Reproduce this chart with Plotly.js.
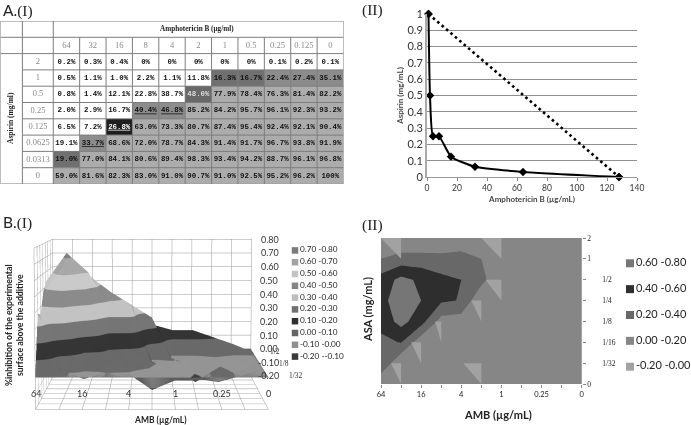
<!DOCTYPE html>
<html><head><meta charset="utf-8">
<script src="https://cdn.plot.ly/plotly-3.0.1.min.js"></script>
<style>html,body{margin:0;padding:0;background:#fff}#c{width:691px;height:425px}.main-svg{will-change:transform}</style>
</head><body><div id="c"></div>
<script>
// ---------- DATA ----------
const ambLabels=['64','32','16','8','4','2','1','0.5','0.25','0.125','0'];
const asaLabels=['2','1','0.5','0.25','0.125','0.0625','0.0313','0'];
const growth=[
['0.2%','0.3%','0.4%','0%','0%','0%','0%','0%','0.1%','0.2%','0.1%'],
['0.5%','1.1%','1.0%','2.2%','1.1%','11.8%','16.3%','16.7%','22.4%','27.4%','35.1%'],
['0.8%','1.4%','12.1%','22.8%','38.7%','48.0%','77.9%','78.4%','76.3%','81.4%','82.2%'],
['2.0%','2.9%','16.7%','<u>40.4%</u>','<u>46.8%</u>','85.2%','84.2%','95.7%','96.1%','92.3%','93.2%'],
['6.5%','7.2%','<u>26.8%</u>','63.0%','73.3%','80.7%','87.4%','95.4%','92.4%','92.1%','90.4%'],
['19.1%','<u>33.7%</u>','68.6%','72.0%','78.7%','84.3%','91.4%','91.7%','96.7%','93.8%','91.9%'],
['19.0%','77.0%','84.1%','80.6%','89.4%','98.3%','93.4%','94.2%','88.7%','96.1%','96.8%'],
['59.0%','81.6%','82.3%','83.0%','91.0%','90.7%','91.0%','92.5%','95.2%','96.2%','100%']];
const W=255,G=172,M=140,D=112,E=104,K=30;
const cellGrey=[
[W,W,W,W,W,W,W,W,W,W,W],
[W,W,W,W,W,W,D,D,M,M,M],
[W,W,W,W,W,E,G,G,G,G,G],
[W,W,W,M,M,G,G,G,G,G,G],
[W,W,K,G,G,G,G,G,G,G,G],
[W,M,G,G,G,G,G,G,G,G,G],
[D,G,G,G,G,G,G,G,G,G,G],
[G,G,G,G,G,G,G,G,G,G,G]];
const isoAmb=[1,2,4,8,16,32,64,128];
const isoAsa=[1,0.5,0.25,0.25,0.125,0.0625,0.03125,0];
const addAmb=[1,128];
const addAsa=[1,0];
const rAmbTicks=[0,2,4,6,8,10];
const rAmbText=['64','16','4','1','0.25','0'];
const asaFrontToBack=['0','1/32','1/16','1/8','1/4','1/2','1','2'];
const zTicks=[-0.2,-0.1,0,0.1,0.2,0.3,0.4,0.5,0.6,0.7,0.8];
// surface values, rows ASA 0 (front) -> 2 (back), columns AMB 64 -> 0
const surfaceZ=[
[0,0,0,0,0,0,0,0,0,0,0],
[0.38,0.02,-0.04,0,-0.01,-0.11,-0.05,-0.05,0.04,-0.03,0],
[0.35,0.41,0.07,0.04,0.05,-0.01,-0.08,-0.07,-0.09,-0.05,0],
[0.47,0.67,0.48,0.12,0.09,0.01,-0.05,-0.12,-0.06,-0.05,0],
[0.53,0.73,0.60,0.37,0.38,-0.01,0.01,-0.10,-0.07,-0.03,0],
[0.48,0.66,0.56,0.45,0.36,0.27,-0.03,-0.02,0.02,-0.02,0],
[0.20,0.28,0.28,0.27,0.31,0.20,0.16,0.16,0.11,0.06,0],
[0,0,0,0,0,0,0,0,0,0,0]];
// contour values, rows 2 (top) -> 0 (bottom), columns AMB 64 -> 0
const contourZ=[
[0.01,0.01,0.01,0.01,0.01,0.01,0.01,0.01,0.01,0.01,0.01],
[0.20,0.28,0.28,0.27,0.31,0.20,0.16,0.16,0.11,0.06,0.01],
[0.48,0.66,0.56,0.45,0.40,0.27,0.01,0.01,0.02,0.01,0.01],
[0.53,0.73,0.60,0.43,0.39,0.01,0.01,0.01,0.01,0.01,0.01],
[0.47,0.67,0.48,0.12,0.09,0.01,0.01,0.01,0.01,0.01,0.01],
[0.35,0.41,0.07,0.04,0.05,0.01,0.01,0.01,0.01,0.01,0.01],
[0.38,0.02,0.01,0.01,0.01,0.01,0.01,0.01,0.04,0.01,0.01],
[0.01,0.01,0.01,0.01,0.01,0.01,0.01,0.01,0.01,0.01,0.01]];
// light facets of the lowest band, [col,row] triangles
const facetX=[0,1,1,null,5,6,6,null,5.2,6,6,null,4.5,5,5,null,2.7,3,3,null,1.5,2,2,null,0.5,1,1,null,4.1,5,5];
const facetY=[0,0,1,null,0,0,1,null,2,2,3,null,3,3,4,null,4,4,5,null,5,5,6,null,6,6,7,null,6,6,7];
const zBandLabels=['0.70 -0.80','0.60 -0.70','0.50 -0.60','0.40 -0.50','0.30 -0.40','0.20 -0.30','0.10 -0.20','0.00 -0.10','-0.10 -0.00','-0.20 --0.10'];
const zBandColors=['#7a7a7a','#a2a2a2','#c4c4c4','#858585','#bdbdbd','#707070','#2f2f2f','#646464','#8f8f8f','#3a3a3a'];
const cBandLabels=['0.60 -0.80','0.40 -0.60','0.20 -0.40','0.00 -0.20','-0.20 -0.00'];
const cBandColors=['#767676','#2e2e2e','#686868','#868686','#a2a2a2'];

// ---------- HELPERS ----------
const FW=691,FH=425;
const dx=(a,b)=>[a/FW,b/FW], dy=(t,b)=>[1-b/FH,1-t/FH];
const LINE='#7d7d7d';
const SANS='Lato, "Open Sans", sans-serif', SERIF='"Liberation Serif", serif', MONO='"Liberation Mono", monospace';

// ---------- TABLE ----------
const cx=[],cy=[],ct=[],cc=[];
growth.forEach((row,r)=>row.forEach((t,c)=>{cx.push(c+.5);cy.push(r+2.5);ct.push(t);cc.push(cellGrey[r][c]<110?(cellGrey[r][c]<60?'#fff':'#ddd'):'#111');}));
const tableHeat={type:'heatmap',xaxis:'x',yaxis:'y',x:ambLabels.map((_,i)=>i+.5),y:asaLabels.map((_,i)=>i+2.5),z:cellGrey,zmin:0,zmax:255,
  colorscale:[[0,'#000'],[1,'#fff']],showscale:false,hoverinfo:'skip'};
const tableText={type:'scatter',mode:'text',xaxis:'x',yaxis:'y',x:cx,y:cy,text:ct,textfont:{family:MONO,size:7.4,color:cc,weight:700},hoverinfo:'skip',showlegend:false};
const headX={type:'scatter',mode:'text',xaxis:'x',yaxis:'y',x:ambLabels.map((_,i)=>i+.5),y:ambLabels.map(()=>1.5),text:ambLabels,textfont:{family:SERIF,size:8.5,color:'#8a8a8a'},hoverinfo:'skip',showlegend:false};
const headY={type:'scatter',mode:'text',xaxis:'x',yaxis:'y',x:asaLabels.map(()=>-0.58),y:asaLabels.map((_,i)=>i+2.5),text:asaLabels,textfont:{family:SERIF,size:8.5,color:'#8a8a8a'},hoverinfo:'skip',showlegend:false};
const shapes=[];
const hl=(y,x0)=>shapes.push({type:'line',xref:'x',yref:'y',x0,x1:11,y0:y,y1:y,line:{color:LINE,width:1}});
const vl=(x,y0,y1)=>shapes.push({type:'line',xref:'x',yref:'y',x0:x,x1:x,y0,y1,line:{color:LINE,width:1}});
[0,1,2,10].forEach(y=>hl(y,-2));
[3,4,5,6,7,8,9].forEach(y=>hl(y,-1.17));
vl(-2,0,10);vl(-1.17,0,10);vl(0,0,10);vl(11,0,10);
for(let i=1;i<11;i++)vl(i,1,10);

// ---------- LINE ----------
const iso={type:'scatter',mode:'lines+markers',xaxis:'x2',yaxis:'y2',x:isoAmb,y:isoAsa,line:{color:'#000',width:2,shape:'spline',smoothing:.5},marker:{symbol:'diamond',size:6.5,color:'#000'},showlegend:false,hoverinfo:'skip',cliponaxis:false};
const add={type:'scatter',mode:'lines+markers',xaxis:'x2',yaxis:'y2',x:addAmb,y:addAsa,line:{color:'#000',width:2.6,dash:'2.6px,3.2px'},marker:{symbol:'diamond',size:6.5,color:'#000'},showlegend:false,hoverinfo:'skip',cliponaxis:false};

// ---------- SURFACE ----------
const asc=zBandColors.slice().reverse();
const scale=[];asc.forEach((c,i)=>{scale.push([i/10,c]);scale.push([(i+1)/10,c]);});
const surf={type:'surface',scene:'scene',x:ambLabels.map((_,i)=>i),y:asaFrontToBack.map((_,i)=>i),z:surfaceZ,cmin:-0.2,cmax:0.8,colorscale:scale,showscale:false,hoverinfo:'skip',
  lighting:{ambient:.65,diffuse:.7,specular:.05,roughness:.9,fresnel:0},lightposition:{x:1500,y:-1500,z:600}};

// ---------- CONTOUR ----------
const cAsc=cBandColors.slice().reverse();
const cScale=[];cAsc.forEach((c,i)=>{cScale.push([i/5,c]);cScale.push([(i+1)/5,c]);});
const contour={type:'contour',xaxis:'x3',yaxis:'y3',x:ambLabels.map((_,i)=>i),y:asaLabels.map((_,i)=>i),z:contourZ,zmin:-0.2,zmax:0.8,colorscale:cScale,showscale:false,
  autocontour:false,contours:{coloring:'fill',start:-0.2,end:0.8,size:0.2,showlines:false},line:{width:0,smoothing:0},hoverinfo:'skip'};
const facets={type:'scatter',mode:'lines',xaxis:'x3',yaxis:'y3',x:facetX,y:facetY,fill:'toself',fillcolor:'#a2a2a2',line:{width:0},hoverinfo:'skip',showlegend:false};

// ---------- LEGENDS ----------
const legZ={type:'scatter',mode:'markers+text',xaxis:'x4',yaxis:'y4',x:zBandLabels.map(()=>0),y:zBandLabels,text:zBandLabels,textposition:'middle right',
  marker:{symbol:'square',size:6.5,color:zBandColors},textfont:{family:SANS,size:8.2,color:'#222'},hoverinfo:'skip',showlegend:false,cliponaxis:false};
const legC={type:'scatter',mode:'markers+text',xaxis:'x5',yaxis:'y5',x:cBandLabels.map(()=>0),y:cBandLabels,text:cBandLabels,textposition:'middle right',
  marker:{symbol:'square',size:8,color:cBandColors},textfont:{family:SANS,size:11,color:'#222'},hoverinfo:'skip',showlegend:false,cliponaxis:false};

// ---------- ANNOTATIONS ----------
const note=(text,xpx,ypx,size,extra)=>Object.assign({text,xref:'paper',yref:'paper',x:xpx/FW,y:1-ypx/FH,showarrow:false,font:{family:SANS,size,color:'#222'},xanchor:'center',yanchor:'middle'},extra||{});
const romanI='<span style="font-family:Liberation Serif">(I)</span>', romanII='<span style="font-family:Liberation Serif">(II)</span>';
const annotations=[
 note('A.'+romanI,1,10,15.5,{xanchor:'left'}),
 note(romanII,360,10,15.5,{xanchor:'left'}),
 note('B.'+romanI,1,223,15.5,{xanchor:'left'}),
 note(romanII,360,225,15.5,{xanchor:'left'}),
 note('<b>Amphotericin B (μg/ml)</b>',197,29,7.2,{font:{family:SERIF,size:7.2,color:'#222'}}),
 note('<b>Aspirin (mg/ml)</b>',11,118,7.5,{textangle:-90,font:{family:SERIF,size:7.5,color:'#222'}}),
 note('<b>%inhibition of the experimental<br>surface above the additive</b>',14,325,8.7,{textangle:-90}),
 note('<b>AMB (µg/mL)</b>',160,420,8.5),
 note('<b>ASA (mg/mL)</b>',367,309,11,{textangle:-90}),
 note('<b>AMB (µg/mL)</b>',498,414,11)
];
const sceneNotes=[];
const f3=(fam,size)=>({family:fam,size,color:'#333'});
rAmbTicks.forEach((v,i)=>sceneNotes.push({x:v,y:0,z:-0.2,text:rAmbText[i],showarrow:false,yshift:16,font:f3(SANS,9)}));
zTicks.forEach(v=>sceneNotes.push({x:10,y:7,z:v,text:v.toFixed(2),showarrow:false,xshift:18,font:f3(SANS,9)}));
[[5,'1/2',20,33],[3,'1/8',24,30],[1,'1/32',30,28]].forEach(a=>sceneNotes.push({x:10,y:a[0],z:-0.2,text:a[1],showarrow:false,xshift:a[2],yshift:a[3],font:f3(SERIF,7.5)}));

const axis3=Object.freeze({title:{text:''},showticklabels:false,gridcolor:'#999',showbackground:true,backgroundcolor:'#fff',zeroline:false,showspikes:false,linecolor:'#999',ticks:''});
const layout={width:FW,height:FH,margin:{l:0,r:0,t:0,b:0},paper_bgcolor:'#fff',plot_bgcolor:'rgba(0,0,0,0)',showlegend:false,shapes,annotations,
 xaxis:{domain:dx(0.5,343.5),range:[-2,11],visible:false,fixedrange:true},
 yaxis:{domain:dy(21,184),range:[10,0],visible:false,fixedrange:true},
 xaxis2:{domain:dx(427,637),range:[0,140],dtick:20,ticks:'outside',ticklen:3,tickcolor:'#888',showgrid:false,zeroline:false,showline:true,linecolor:'#999',tickfont:{family:SANS,size:8.5,color:'#333'},anchor:'y2',
   title:{text:'<b>Amphotericin B (µg/mL)</b>',font:{family:SANS,size:8},standoff:4},fixedrange:true},
 yaxis2:{domain:dy(14,177),range:[0,1],dtick:0.1,showgrid:true,gridcolor:'#909090',gridwidth:1.3,zeroline:false,showline:true,linecolor:'#aaa',linewidth:2,tickfont:{family:SANS,size:11,color:'#333'},anchor:'x2',
   title:{text:'<b>Aspirin (mg/mL)</b>',font:{family:SANS,size:8},standoff:3},fixedrange:true},
 xaxis3:{domain:dx(381,581.7),range:[0,10],tickvals:ambLabels.map((_,i)=>i),ticktext:ambLabels.map((_,i)=>rAmbTicks.includes(i)?rAmbText[rAmbTicks.indexOf(i)]:''),ticks:'outside',ticklen:3,tickcolor:'#888',showgrid:false,zeroline:false,showline:false,tickfont:{family:SANS,size:7.5,color:'#222'},anchor:'y3',fixedrange:true},
 yaxis3:{domain:dy(238,384),range:[7,0],side:'right',tickvals:asaLabels.map((_,i)=>i),ticktext:['2','1','\u2003\u20031/2','\u2003\u20031/4','\u2003\u20031/8','\u2003\u20031/16','\u2003\u20031/32','0'],ticks:'outside',ticklen:3,tickcolor:'#888',showgrid:false,zeroline:false,showline:false,tickfont:{family:SERIF,size:7.5,color:'#222'},anchor:'x3',fixedrange:true},
 xaxis4:{domain:dx(295,345),range:[0,1],visible:false,fixedrange:true,anchor:'y4'},
 yaxis4:{domain:dy(240,367),type:'category',categoryorder:'array',categoryarray:zBandLabels,autorange:'reversed',visible:false,fixedrange:true,anchor:'x4'},
 xaxis5:{domain:dx(630,690),range:[0,1],visible:false,fixedrange:true,anchor:'y5'},
 yaxis5:{domain:dy(252,378),type:'category',categoryorder:'array',categoryarray:cBandLabels,autorange:'reversed',visible:false,fixedrange:true,anchor:'x5'},
 scene:{domain:{x:dx(0,304),y:[0,1]},aspectmode:'manual',aspectratio:{x:0.975,y:0.39,z:0.678},
   bgcolor:'rgba(0,0,0,0)',annotations:sceneNotes,
   camera:{eye:{x:0.001,y:-2.305,z:0.578},center:{x:0,y:0,z:0.478},up:{x:0,y:0,z:1},projection:{type:'perspective'}},
   xaxis:Object.assign({},axis3,{range:[0,10],tickvals:ambLabels.map((_,i)=>i)}),
   yaxis:Object.assign({},axis3,{range:[0,7],tickvals:asaLabels.map((_,i)=>i)}),
   zaxis:Object.assign({},axis3,{range:[-0.2,0.8],tickvals:zTicks})}
};
Plotly.newPlot('c',[tableHeat,tableText,headX,headY,iso,add,surf,contour,facets,legZ,legC],layout,{displayModeBar:false});
</script></body></html>
